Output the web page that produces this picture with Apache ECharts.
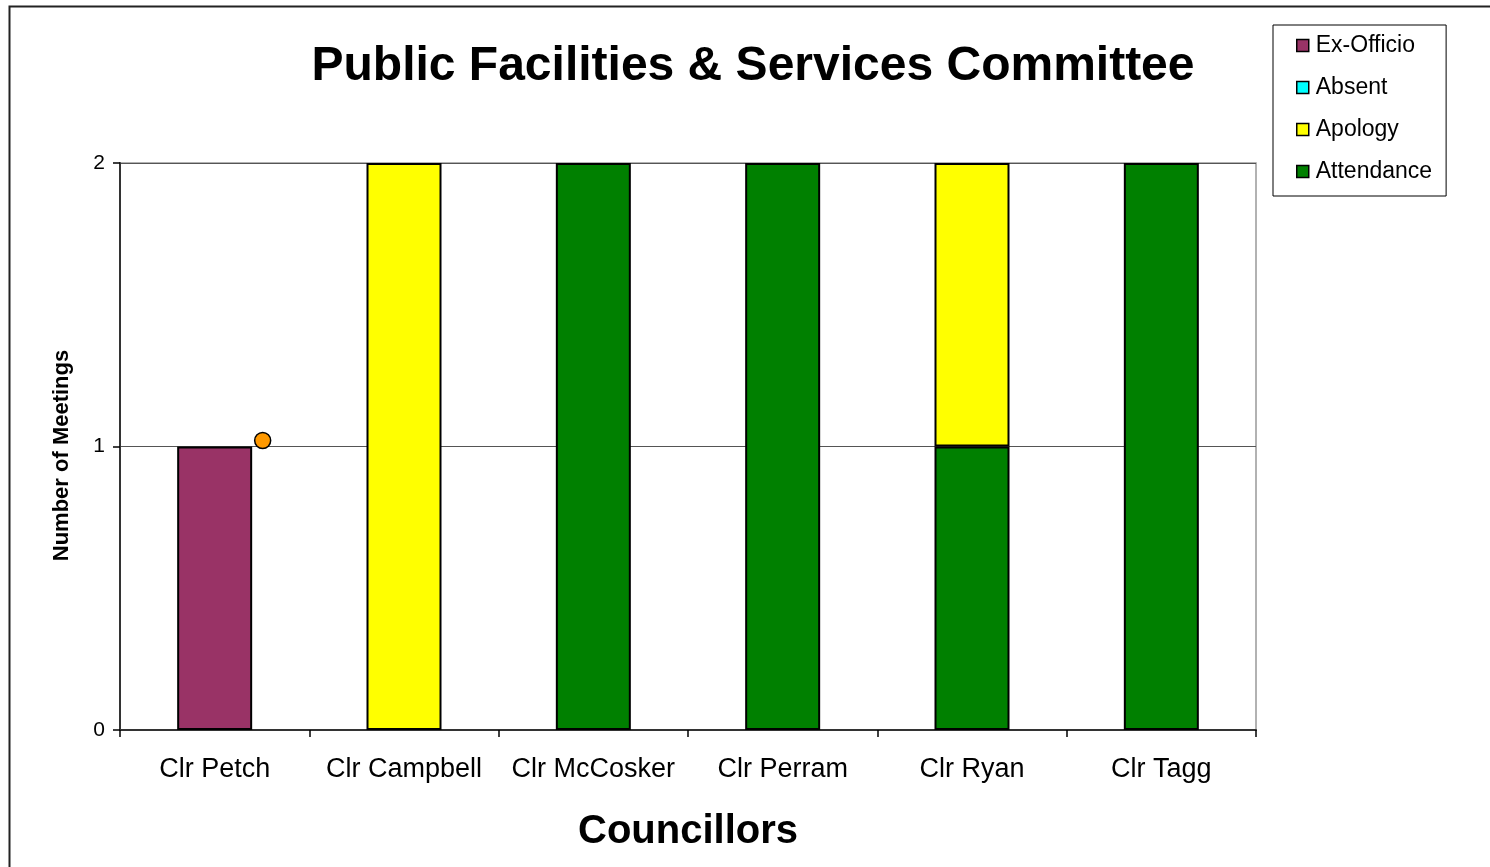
<!DOCTYPE html>
<html>
<head>
<meta charset="utf-8">
<title>Public Facilities & Services Committee</title>
<script src="https://cdn.jsdelivr.net/npm/echarts@6/dist/echarts.min.js"></script>
<style>
  html, body { margin: 0; padding: 0; background: #fff; }
  #chart { width: 1490px; height: 867px; }
</style>
</head>
<body>
<div id="chart"></div>
<script>
// Meeting attendance per councillor
const councillors = ['Clr Petch', 'Clr Campbell', 'Clr McCosker', 'Clr Perram', 'Clr Ryan', 'Clr Tagg'];
const attendance = [0, 0, 2, 2, 1, 2];
const apology    = [0, 2, 0, 0, 1, 0];
const absent     = [0, 0, 0, 0, 0, 0];
const exOfficio  = [1, 0, 0, 0, 0, 0];
const yTicks = [0, 1, 2];
// flag shown next to the ex-officio bar
const flagged = [1, null, null, null, null, null];

const FONT = '"Liberation Sans", Arial, sans-serif';
const toBars = arr => arr.map(v => (v === 0 ? null : v));

const barStyle = color => ({ color: color, borderColor: '#000', borderWidth: 2 });

function barSeries(name, data, color) {
  return {
    name: name,
    type: 'bar',
    stack: 'meetings',
    data: toBars(data),
    barWidth: 75,
    itemStyle: barStyle(color),
    emphasis: { disabled: true }
  };
}

const chart = echarts.init(document.getElementById('chart'), null, { renderer: 'canvas' });

chart.setOption({
  animation: false,
  backgroundColor: '#fff',
  textStyle: { fontFamily: FONT },
  title: {
    text: 'Public Facilities & Services Committee',
    left: 748,
    textAlign: 'center',
    top: 38,
    textStyle: { fontFamily: FONT, fontSize: 48, fontWeight: 'bold', color: '#000' }
  },
  legend: {
    orient: 'vertical',
    left: 1273,
    top: 25,
    data: ['Ex-Officio', 'Absent', 'Apology', 'Attendance'],
    icon: 'rect',
    itemWidth: 12,
    itemHeight: 12,
    itemGap: 19,
    padding: [9, 14, 13, 23],
    borderColor: '#000',
    borderWidth: 1,
    textStyle: { fontFamily: FONT, fontSize: 23, color: '#000', lineHeight: 23, padding: [0, 0, 0, 2] },
    itemStyle: { borderColor: '#000', borderWidth: 1.5 }
  },
  grid: {
    left: 120,
    top: 163,
    right: 234,
    bottom: 137,
    show: true,
    borderColor: '#999',
    borderWidth: 1.5
  },
  xAxis: {
    type: 'category',
    data: councillors,
    name: 'Councillors',
    nameLocation: 'middle',
    nameGap: 82,
    nameTextStyle: { fontFamily: FONT, fontSize: 40, fontWeight: 'bold', color: '#000' },
    axisLine: { lineStyle: { color: '#333', width: 2 } },
    axisTick: { show: true, interval: 0, length: 7, lineStyle: { color: '#000', width: 1.5 } },
    axisLabel: { interval: 0, fontFamily: FONT, fontSize: 27, color: '#000', margin: 26 },
    splitLine: { show: false }
  },
  yAxis: {
    type: 'value',
    min: yTicks[0],
    max: yTicks[yTicks.length - 1],
    interval: 1,
    name: 'Number of Meetings',
    nameLocation: 'middle',
    nameGap: 47,
    nameTextStyle: { fontFamily: FONT, fontSize: 22, fontWeight: 'bold', color: '#000', padding: [0, 18, 0, 0] },
    axisLine: { show: true, lineStyle: { color: '#333', width: 2 } },
    axisTick: { show: true, length: 7, lineStyle: { color: '#000', width: 1.5 } },
    axisLabel: { fontFamily: FONT, fontSize: 21, color: '#000', margin: 15 },
    splitLine: { show: true, lineStyle: { color: '#555', width: 1 } }
  },
  graphic: [{
    type: 'rect',
    silent: true,
    z: -10,
    shape: { x: 9.5, y: 6.5, width: 1490, height: 900 },
    style: { fill: 'none', stroke: '#222', lineWidth: 2 }
  }],
  series: [
    barSeries('Attendance', attendance, '#008000'),
    barSeries('Apology', apology, '#FFFF00'),
    barSeries('Absent', absent, '#00FFFF'),
    barSeries('Ex-Officio', exOfficio, '#993366'),
    {
      name: 'flag',
      type: 'scatter',
      data: flagged,
      symbol: 'circle',
      symbolSize: 16,
      symbolOffset: [48, -6],
      itemStyle: { color: '#FF9900', borderColor: '#000', borderWidth: 1.5, opacity: 1 },
      emphasis: { disabled: true },
      z: 5
    }
  ]
});
</script>
</body>
</html>
